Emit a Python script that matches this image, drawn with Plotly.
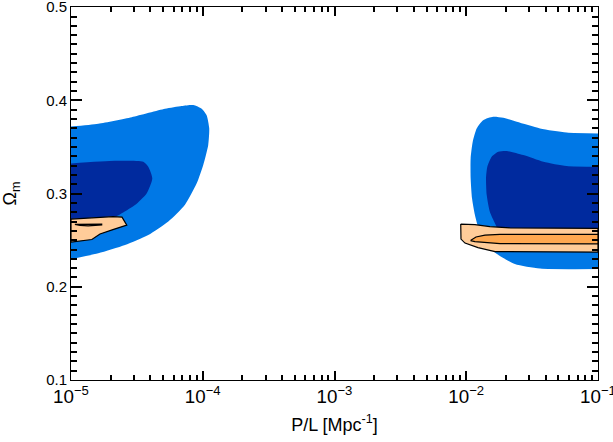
import plotly.graph_objects as go

# outer (light blue) and inner (dark blue) regions, low-k island
blue_lo_outer_x = [1e-5, 1.61e-5, 2.89e-5, 5.17e-5, 6.92e-5, 8.48e-5, 9.82e-5, 1.07e-4, 1.12e-4,
                   1.10e-4, 1.01e-4, 9.0e-5, 7.33e-5, 5.48e-5, 3.86e-5, 2.57e-5, 1.61e-5, 1e-5]
blue_lo_outer_y = [0.372, 0.375, 0.382, 0.391, 0.394, 0.395, 0.391, 0.384, 0.370,
                   0.352, 0.331, 0.311, 0.288, 0.270, 0.2555, 0.2448, 0.2359, 0.2298]
blue_lo_inner_x = [1e-5, 2.16e-5, 3.54e-5, 3.86e-5, 4.14e-5, 3.75e-5, 3.06e-5, 2.49e-5, 2.05e-5, 1e-5]
blue_lo_inner_y = [0.3324, 0.3352, 0.3341, 0.3287, 0.3163, 0.3002, 0.2877, 0.2798, 0.2737, 0.2705]

# high-k island
blue_hi_outer_x = [0.1, 0.0578, 0.0363, 0.0242, 0.0191, 0.0160, 0.01345, 0.0120, 0.0112, 0.0108,
                   0.0108, 0.01106, 0.01164, 0.0125, 0.01437, 0.0171, 0.0234, 0.0363, 0.1]
blue_hi_outer_y = [0.3646, 0.3656, 0.3699, 0.3770, 0.3813, 0.3824, 0.3788, 0.3699, 0.3556, 0.3377,
                   0.3163, 0.2949, 0.2769, 0.2609, 0.2448, 0.2351, 0.2244, 0.2196, 0.2190]
blue_hi_inner_x = [0.1, 0.0578, 0.0385, 0.0271, 0.0203, 0.0175, 0.0156, 0.01445, 0.01413,
                   0.0143, 0.0151, 0.01653, 0.01868, 0.0222, 0.1]
blue_hi_inner_y = [0.3287, 0.3295, 0.3341, 0.3413, 0.3456, 0.3448, 0.3395, 0.3287, 0.3163,
                   0.2984, 0.2805, 0.2680, 0.2544, 0.2458, 0.2448]

# orange regions
orange_lo_outer_x = [1e-5, 2.08e-5, 2.44e-5, 2.65e-5, 2.08e-5, 1.66e-5, 1.44e-5, 1e-5, 1e-5]
orange_lo_outer_y = [0.2727, 0.2753, 0.2748, 0.2662, 0.2614, 0.2566, 0.2507, 0.2480, 0.2727]
orange_lo_inner_x = [1.07e-5, 1.71e-5, 1.71e-5, 1.35e-5, 1.17e-5, 1.07e-5]
orange_lo_inner_y = [0.2670, 0.2673, 0.2664, 0.2654, 0.2659, 0.2670]

orange_hi_outer_x = [0.00908, 0.01164, 0.0151, 0.0215, 0.1, 0.1, 0.01653, 0.01228, 0.00978, 0.00912, 0.00908]
orange_hi_outer_y = [0.2673, 0.2668, 0.2646, 0.2632, 0.2627, 0.2373, 0.2378, 0.2421, 0.2469, 0.2512, 0.2673]
orange_hi_inner_x = [0.01077, 0.01186, 0.01387, 0.01803, 0.1, 0.1, 0.01803, 0.01387, 0.01164, 0.01077]
orange_hi_inner_y = [0.2496, 0.2534, 0.2555, 0.2562, 0.2563, 0.2461, 0.2464, 0.2475, 0.2485, 0.2496]

LIGHT_BLUE = "rgb(0,120,230)"
DARK_BLUE = "rgb(0,42,158)"
PEACH = "rgb(255,204,153)"
ORANGE = "rgb(255,168,80)"

fig = go.Figure()


def region(x, y, color, outline=False, smooth=False):
    fig.add_trace(go.Scatter(
        x=x, y=y, mode="lines", fill="toself", fillcolor=color,
        line=dict(color="black" if outline else color, width=1.2 if outline else 0,
                  shape="spline" if smooth else "linear", smoothing=0.6),
        hoverinfo="skip", showlegend=False,
    ))


region(blue_lo_outer_x, blue_lo_outer_y, LIGHT_BLUE, smooth=True)
region(blue_hi_outer_x, blue_hi_outer_y, LIGHT_BLUE, smooth=True)
region(blue_lo_inner_x, blue_lo_inner_y, DARK_BLUE, smooth=True)
region(blue_hi_inner_x, blue_hi_inner_y, DARK_BLUE, smooth=True)
region(orange_lo_outer_x, orange_lo_outer_y, PEACH, outline=True)
region(orange_hi_outer_x, orange_hi_outer_y, PEACH, outline=True)
region(orange_lo_inner_x, orange_lo_inner_y, ORANGE, outline=True)
region(orange_hi_inner_x, orange_hi_inner_y, ORANGE, outline=True)

fig.update_xaxes(
    type="log", range=[-5, -1], dtick=1, exponentformat="power",
    showline=True, linecolor="black", mirror="ticks",
    ticks="inside", ticklen=9, tickwidth=1.5, tickcolor="black",
    minor=dict(ticks="inside", dtick="D1", ticklen=5, tickwidth=1.5, tickcolor="black"),
    ticklabeloverflow="allow", automargin=False,
    title=dict(text="P/L [Mpc<sup>-1</sup>]", standoff=12),
)
fig.update_yaxes(
    range=[0.1, 0.5002], dtick=0.1, tickformat=".1f",
    showline=True, linecolor="black", mirror="ticks",
    ticks="inside", ticklen=11, tickwidth=1.5, tickcolor="black",
    minor=dict(ticks="inside", dtick=0.01, ticklen=6, tickwidth=1.5, tickcolor="black"),
    ticklabeloverflow="allow", automargin=False,
    title=dict(text="Ω<sub>m</sub>", standoff=26),
)

fig.update_layout(
    width=613, height=442,
    margin=dict(l=71, r=15, t=7, b=62),
    plot_bgcolor="white",
    font=dict(family="Liberation Sans, Arial, sans-serif", size=15, color="black"),
)

fig.write_html("out.html", config={"displayModeBar": False},
               post_script="document.body.style.margin='0';")
